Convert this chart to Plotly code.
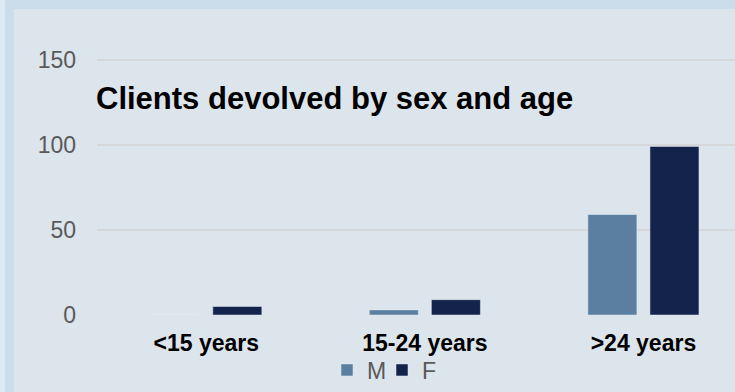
import plotly.graph_objects as go

# data
categories = ["<15 years", "15-24 years", ">24 years"]
male = [0, 3, 59]
female = [5, 9, 99]
y_ticks = [0, 50, 100, 150]

M_COLOR = "#5a7fa0"
F_COLOR = "#13234c"

# plot area in pixels (figure is 735 x 392)
L, T, B = 97, 51, 77
PW, PH = 735 - L, 392 - T - B

fig = go.Figure()
fig.add_trace(go.Bar(x=categories, y=male, name="M", marker_color=M_COLOR))
fig.add_trace(go.Bar(x=categories, y=female, name="F", marker_color=F_COLOR))

fig.update_layout(
    width=735,
    height=392,
    barmode="group",
    bargap=0.432,
    bargroupgap=0.21,
    paper_bgcolor="#dce4ec",
    plot_bgcolor="#dce4ec",
    margin=dict(l=L, r=0, t=T, b=B, pad=0),
    font=dict(family="Arial, Liberation Sans", size=23, color="#595959"),
    showlegend=True,
    legend=dict(
        orientation="h",
        x=(327 - L) / PW, xanchor="left",
        y=-(370 - (T + PH)) / PH, yanchor="middle",
        font=dict(size=23, color="#595959"),
        bgcolor="rgba(0,0,0,0)",
        itemwidth=30,
        entrywidth=10,
        tracegroupgap=0,
    ),
    xaxis=dict(
        range=[-0.5, 2.419],
        showgrid=False,
        zeroline=False,
        showline=False,
        ticks="",
        ticklabelstandoff=12,
        tickfont=dict(family="Arial, Liberation Sans", size=23, color="black", weight="bold"),
    ),
    yaxis=dict(
        range=[0, 155],
        tickvals=y_ticks,
        showgrid=True,
        gridcolor="#d6d7d8",
        gridwidth=1.5,
        zeroline=False,
        ticks="",
        ticklabelstandoff=20,
        tickfont=dict(size=23, color="#595959"),
    ),
    shapes=[
        # outer frame strips
        dict(type="rect", xref="paper", yref="paper", x0=-L / PW, x1=-(L - 5) / PW,
             y0=-B / PH, y1=(PH + T) / PH, fillcolor="#dde9f5", line_width=0, layer="above"),
        dict(type="rect", xref="paper", yref="paper", x0=-(L - 5) / PW, x1=-(L - 14) / PW,
             y0=-B / PH, y1=(PH + T) / PH, fillcolor="#cbdcea", line_width=0, layer="above"),
        dict(type="rect", xref="paper", yref="paper", x0=-(L - 5) / PW, x1=1.0,
             y0=(PH + T - 9) / PH, y1=(PH + T) / PH, fillcolor="#cbdcea", line_width=0, layer="above"),
    ],
    annotations=[
        dict(text="<b>Clients devolved by sex and age</b>", xref="paper", yref="paper",
             x=(93.5 - L) / PW, y=((T + PH) - 99) / PH, xanchor="left", yanchor="middle",
             showarrow=False,
             font=dict(family="Arial, Liberation Sans", size=31, color="black")),
    ],
)

fig.write_html("out.html", config={"displayModeBar": False},
               post_script="document.body.style.margin='0';")
